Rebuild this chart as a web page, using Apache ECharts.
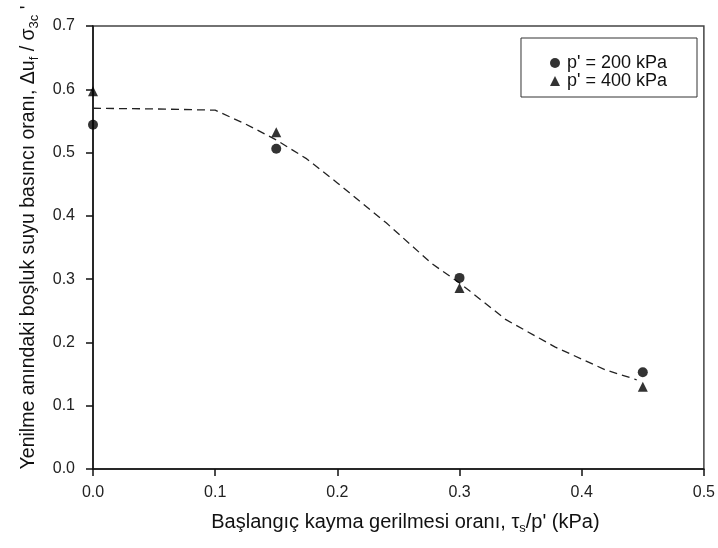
<!DOCTYPE html>
<html>
<head>
<meta charset="utf-8">
<script src="https://cdn.jsdelivr.net/npm/echarts@6/dist/echarts.min.js"></script>
<style>
  html, body { margin: 0; padding: 0; background: #fff; }
  #chart { width: 718px; height: 548px; }
</style>
</head>
<body>
<div id="chart"></div>
<script>
// measured points
var xTicks = [0.0, 0.1, 0.2, 0.3, 0.4, 0.5];
var yTicks = [0.0, 0.1, 0.2, 0.3, 0.4, 0.5, 0.6, 0.7];

var pointX = [0, 0.15, 0.3, 0.45];
var p200 = [0.544, 0.506, 0.302, 0.153];
var p400 = [0.597, 0.532, 0.286, 0.130];

// dashed fit curve
var fitX = [0, 0.05, 0.1, 0.125, 0.15, 0.175, 0.2, 0.24, 0.277, 0.3, 0.338, 0.378, 0.419, 0.445];
var fitY = [0.570, 0.569, 0.567, 0.545, 0.520, 0.490, 0.452, 0.389, 0.325, 0.294, 0.236, 0.193, 0.157, 0.141];

function pairs(xs, ys) {
  return xs.map(function (x, i) { return [x, ys[i]]; });
}

var font = '"Liberation Sans", Arial, sans-serif';

var chart = echarts.init(document.getElementById('chart'), null, { renderer: 'canvas' });

chart.setOption({
  animation: false,
  backgroundColor: '#fff',
  grid: {
    left: 93, right: 12, top: 26, bottom: 79,
    show: true, borderColor: '#444', borderWidth: 1.5
  },
  legend: {
    right: 21, top: 38,
    orient: 'vertical',
    borderColor: '#333', borderWidth: 1,
    padding: [16, 30, 7, 29],
    itemGap: 0,
    itemWidth: 10, itemHeight: 10,
    textStyle: { fontFamily: font, fontSize: 18, color: '#111', padding: [0, 0, 0, 2] },
    data: [
      { name: "p' = 200 kPa", icon: 'circle' },
      { name: "p' = 400 kPa", icon: 'triangle' }
    ]
  },
  xAxis: {
    type: 'value',
    min: 0, max: 0.5, interval: 0.1,
    name: '{t|Başlangıç kayma gerilmesi oranı, τ}{s|s}{t|/p\' (kPa)}',
    nameLocation: 'middle',
    nameGap: 41,
    nameTextStyle: {
      fontFamily: font, color: '#111', padding: [0, 0, 0, 14],
      rich: {
        t: { fontFamily: font, fontSize: 20, color: '#111' },
        s: { fontFamily: font, fontSize: 13, color: '#111', padding: [12, 0, 0, 0] }
      }
    },
    axisLine: { show: true, lineStyle: { color: '#111', width: 1.5 } },
    axisTick: { show: true, inside: false, length: 7, lineStyle: { color: '#111', width: 1.5 } },
    axisLabel: {
      fontFamily: font, fontSize: 16, color: '#222', margin: 16,
      formatter: function (v) { return v.toFixed(1); }
    },
    splitLine: { show: false }
  },
  yAxis: {
    type: 'value',
    min: 0, max: 0.7, interval: 0.1,
    name: '{t|Yenilme anındaki boşluk suyu basıncı oranı, Δu}{s|f}{t| / σ}{s|3c}{t| \'}',
    nameLocation: 'middle',
    nameGap: 52,
    nameRotate: 90,
    nameTextStyle: {
      fontFamily: font, color: '#111', padding: [0, 0, 0, 20],
      rich: {
        t: { fontFamily: font, fontSize: 19.5, color: '#111' },
        s: { fontFamily: font, fontSize: 13, color: '#111', padding: [12, 0, 0, 0] }
      }
    },
    axisLine: { show: true, lineStyle: { color: '#111', width: 1.5 } },
    axisTick: { show: true, inside: false, length: 7, lineStyle: { color: '#111', width: 1.5 } },
    axisLabel: {
      fontFamily: font, fontSize: 16, color: '#222', margin: 18,
      formatter: function (v) { return v.toFixed(1); }
    },
    splitLine: { show: false }
  },
  series: [
    {
      name: 'fit',
      type: 'line',
      data: pairs(fitX, fitY),
      showSymbol: false,
      symbol: 'none',
      smooth: false,
      lineStyle: { color: '#222', width: 1.3, type: [8, 5] },
      silent: true,
      z: 1
    },
    {
      name: "p' = 200 kPa",
      type: 'scatter',
      data: pairs(pointX, p200),
      symbol: 'circle',
      symbolSize: 10,
      itemStyle: { color: '#000' },
      z: 3
    },
    {
      name: "p' = 400 kPa",
      type: 'scatter',
      data: pairs(pointX, p400),
      symbol: 'triangle',
      symbolSize: 10,
      itemStyle: { color: '#000' },
      z: 3
    }
  ]
});
</script>
</body>
</html>
